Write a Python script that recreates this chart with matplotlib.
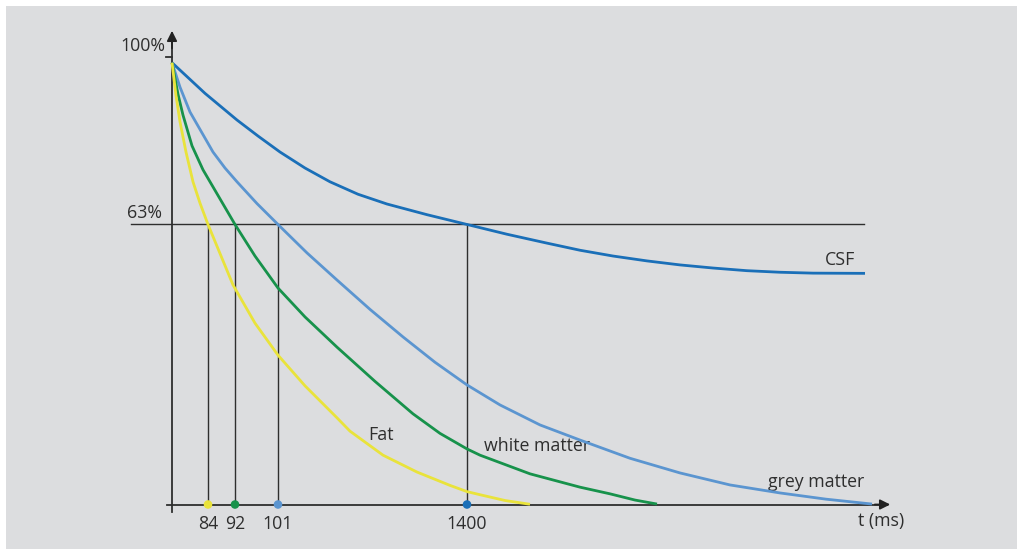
import numpy as np
import matplotlib
matplotlib.use("Agg")
import matplotlib.pyplot as plt
from matplotlib.patches import Rectangle

plt.rcParams['font.family'] = ['Open Sans', 'DejaVu Sans']

# kurva relaksasi (x: waktu skematis, y: persen)
csf_x = [0, 33, 65, 86, 108, 133, 158, 186, 215, 255, 295, 335, 375, 408, 441,
         475, 508, 541, 575, 608, 641, 693]
csf_y = [99.4, 92.5, 86.5, 82.9, 79.3, 75.7, 72.6, 69.8, 67.6, 65.2, 63.0, 60.8,
         58.8, 57.2, 55.9, 54.8, 53.9, 53.2, 52.6, 52.25, 52.05, 52.0]

grey_x = [0, 8, 18, 41, 53, 65, 85, 106, 135, 165, 198, 231, 263, 295, 328, 368,
          408, 458, 508, 558, 608, 654, 700]
grey_y = [99.4, 93.9, 88.3, 79.3, 75.7, 72.6, 67.7, 63.0, 56.6, 50.5, 43.9, 37.7,
          32.0, 26.9, 22.4, 17.9, 14.5, 10.4, 7.1, 4.4, 2.6, 1.2, 0.1]

white_x = [0, 6, 11, 20, 31, 63, 83, 106, 133, 165, 203, 241, 268, 295, 308, 358,
           408, 438, 463, 485]
white_y = [99.4, 92.3, 87.6, 80.7, 75.3, 63.0, 55.9, 48.7, 42.2, 35.4, 27.7, 20.4,
           16.0, 12.5, 11.1, 6.9, 3.9, 2.4, 1.0, 0.1]

fat_x = [0, 4, 8, 14, 21, 28, 36, 61, 83, 106, 133, 165, 178, 211, 245, 278, 295,
         308, 333, 358]
fat_y = [99.4, 92.0, 86.1, 79.3, 72.6, 67.8, 63.0, 49.4, 40.8, 33.6, 26.7, 19.5,
         16.5, 11.1, 7.3, 4.3, 2.9, 2.2, 0.9, 0.05]

# titik 63% pada sumbu waktu
mark_x = [36, 63, 106, 295]
mark_labels = ['84', '92', '101', '1400']
mark_colors = ['#e9e33b', '#17924b', '#5b95d0', '#1a6fb8']
level = 63

W, H = 1017, 549
fig = plt.figure(figsize=(W / 100, H / 100), dpi=100)
fig.patch.set_facecolor('white')
fig.patches.append(Rectangle((6 / W, -0.01), 1.1, (H - 6) / H + 0.01, transform=fig.transFigure,
                             facecolor='#dcdddf', edgecolor='none', zorder=-10))

ax = fig.add_axes([0, 0, 1, 1])
ax.set_facecolor('none')
px = 4.445  # piksel per persen
ax.set_xlim(-172, W - 172)
ax.set_ylim(-(H - 504.5) / px, 504.5 / px)
ax.axis('off')

ink = '#2e2e2e'

# garis 63% dan garis jatuh
ax.plot([-41, 692], [level, level], color=ink, lw=1.0, zorder=2)
for x in mark_x:
    ax.plot([x, x], [0, level], color=ink, lw=1.0, zorder=2)

# sumbu
ax.plot([0, 0], [-1.7, 104], color=ink, lw=1.3, zorder=3)
ax.annotate('', xy=(0, 107.2), xytext=(0, 102),
            arrowprops=dict(arrowstyle='-|>', color='#222222', lw=1.3, mutation_scale=15))
ax.plot([-5, 715], [0, 0], color=ink, lw=1.3, zorder=3)
ax.annotate('', xy=(721, 0), xytext=(700, 0),
            arrowprops=dict(arrowstyle='-|>', color='#222222', lw=1.3, mutation_scale=15))
ax.plot([-6, 0], [100.7, 100.7], color=ink, lw=1.3, zorder=3)

# kurva
for xs, ys, col in [(csf_x, csf_y, '#1a6fb8'), (grey_x, grey_y, '#5b95d0'),
                    (white_x, white_y, '#17924b'), (fat_x, fat_y, '#e9e33b')]:
    ax.plot(xs, ys, color=col, lw=2.0, zorder=4, solid_capstyle='butt', solid_joinstyle='round')

ax.scatter(mark_x, [0] * len(mark_x), s=38, c=mark_colors, zorder=5, linewidths=0)

fs = 12.8
for x, lab in zip(mark_x, mark_labels):
    ax.text(x, -4.4, lab, ha='center', va='center', fontsize=fs, color=ink)
ax.text(-7, 103.2, '100%', ha='right', va='center', fontsize=fs, color=ink)
ax.text(-10, 65.5, '63%', ha='right', va='center', fontsize=fs, color=ink)
ax.text(709, -3.8, 't (ms)', ha='center', va='center', fontsize=fs, color=ink)
ax.text(668, 54.9, 'CSF', ha='center', va='center', fontsize=fs, color=ink)
ax.text(644, 5.1, 'grey matter', ha='center', va='center', fontsize=fs, color=ink)
ax.text(365, 13.2, 'white matter', ha='center', va='center', fontsize=fs, color=ink)
ax.text(209, 15.7, 'Fat', ha='center', va='center', fontsize=fs, color=ink)

fig.savefig('out.png', dpi=100, facecolor=fig.get_facecolor())
